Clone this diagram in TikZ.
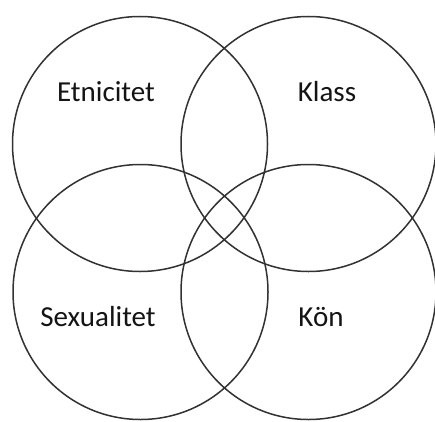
\documentclass[tikz,border=0pt]{standalone}
\usepackage{fontspec}
\setmainfont{Carlito}
\usepackage{xcolor}
\usepackage{tikz}
\definecolor{vennLine}{RGB}{50,50,50}
\definecolor{vennText}{RGB}{20,20,20}

\begin{document}
\begin{tikzpicture}[x=1pt, y=1pt,
  ring/.style={draw=vennLine, line width=1.5pt, circle, minimum size=255pt, inner sep=0pt},
  lbl/.style={text=vennText, font=\fontsize{29}{32}\selectfont}]
  % Frame
  \useasboundingbox (0,0) rectangle (435,421);
  \fill[white] (0,0) rectangle (435,421);

  % Circles
  \node[ring] (etn) at (140,277) {};
  \node[ring] (kla) at (308.5,277) {};
  \node[ring] (sex) at (140.5,129) {};
  \node[ring] (kon) at (308.5,129) {};

  % Labels
  \node[lbl] (etnL) at (106,329) {Etnicitet};
  \node[lbl] (klaL) at (327,329) {Klass};
  \node[lbl] (sexL) at (98,104) {Sexualitet};
  \node[lbl] (konL) at (321,104) {Kön};
\end{tikzpicture}
\end{document}
